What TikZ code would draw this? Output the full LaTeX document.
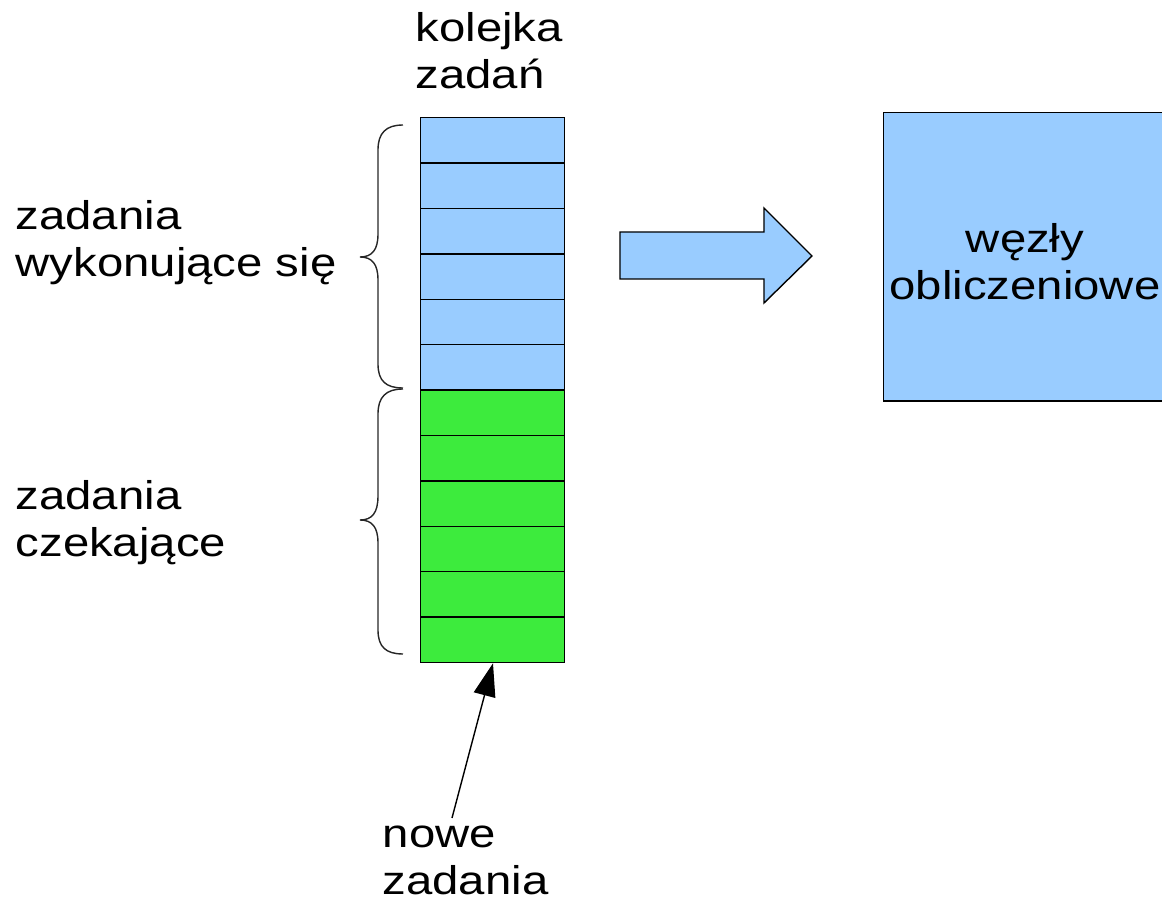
\documentclass[tikz,border=0pt]{standalone}
\usepackage{fontspec}
\setmainfont{Liberation Sans}[FakeStretch=1.18]
\usetikzlibrary{arrows.meta}
\definecolor{qblue}{RGB}{153,204,255}
\definecolor{qgreen}{RGB}{61,235,61}
\begin{document}
\begin{tikzpicture}[x=0.01cm,y=-0.01cm,
  lbl/.style={font=\fontsize{11.4pt}{13.4pt}\selectfont, inner sep=0pt, align=left, anchor=base west},
  cell/.style={draw=black, line width=0.4pt, minimum width=1.44cm, minimum height=0.454cm, inner sep=0pt, anchor=north west},
  bluecell/.style={cell, fill=qblue},
  greencell/.style={cell, fill=qgreen},
  bracepath/.style={draw=black!85, line width=0.4pt},
  thinline/.style={draw=black, line width=0.4pt}]
\useasboundingbox (0,0) rectangle (1162,912);
\clip (0,0) rectangle (1162,912);
% queue cells
\foreach \i in {1,...,6} {
  \node[bluecell] (r\i) at (420,{117+(\i-1)*45.4}) {};
}
\foreach \i in {7,...,12} {
  \node[greencell] (r\i) at (420,{117+(\i-1)*45.4}) {};
}
% labels (anchored at baseline of last line)
\node[lbl] (kz) at (415,89) {kolejka\\zadań};
\node[lbl] (zw) at (15,277) {zadania\\wykonujące się};
\node[lbl] (zc) at (15,557) {zadania\\czekające};
\node[lbl] (nz) at (382,895) {nowe\\zadania};
% braces
\draw[bracepath] (403,125) .. controls (386,125) and (378,133) .. (378,150) -- (378,234)
  .. controls (378,250) and (372,257) .. (360,257)
  .. controls (372,257) and (378,264) .. (378,280) -- (378,364)
  .. controls (378,381) and (386,388) .. (403,388);
\draw[bracepath] (403,389) .. controls (386,389) and (378,397) .. (378,414) -- (378,496)
  .. controls (378,513) and (372,520) .. (360,520)
  .. controls (372,520) and (378,527) .. (378,543) -- (378,630)
  .. controls (378,647) and (386,654) .. (403,654);
% big arrow
\draw[thinline, fill=qblue, line join=miter] (620,232) -- (764,232) -- (764,208) -- (812,256)
  -- (764,303) -- (764,279) -- (620,279) -- cycle;
% compute nodes box
\node[draw=black, line width=0.4pt, fill=qblue, minimum width=2.82cm, minimum height=2.88cm, inner sep=0pt, anchor=north west] (wo) at (883,112) {};
\node[font=\fontsize{11.4pt}{13.4pt}\selectfont, inner sep=0pt, align=center, anchor=base] (wotext) at (1025,300) {węzły\\obliczeniowe};
% new tasks arrow
\coordinate (ns) at (452,818);
\draw[thinline, -{Triangle[length=0.33cm,width=0.22cm]}] (ns) -- (r12.south -| 493,0);
\end{tikzpicture}
\end{document}
